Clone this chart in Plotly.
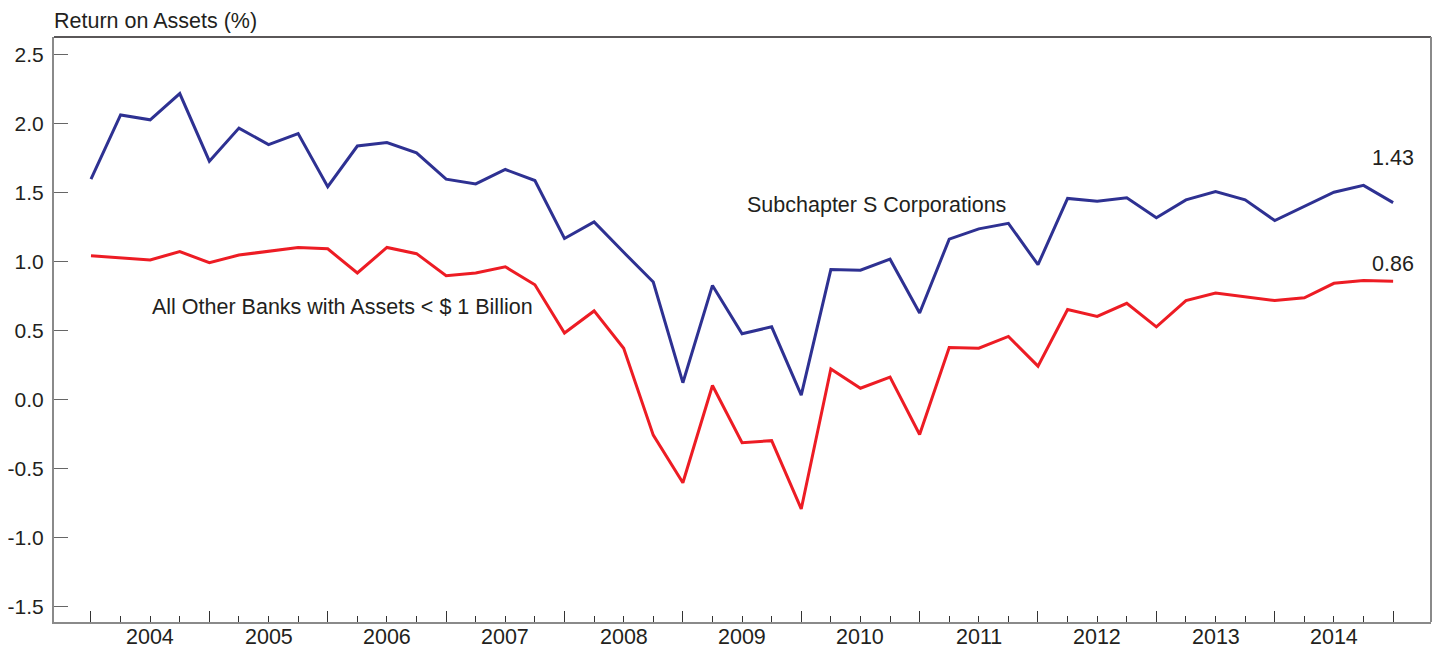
import plotly.graph_objects as go

# Quarterly, 2003Q4 .. 2014Q4 (45 quarters)
quarter_index = list(range(45))
years = ["2004", "2005", "2006", "2007", "2008", "2009", "2010", "2011", "2012", "2013", "2014"]

subchapter_s = [1.60, 2.065, 2.03, 2.22, 1.73, 1.97, 1.85, 1.93, 1.545, 1.84,
                1.865, 1.79, 1.60, 1.565, 1.67, 1.59, 1.17, 1.29, 1.07, 0.855,
                0.125, 0.83, 0.48, 0.53, 0.035, 0.945, 0.94, 1.02, 0.63, 1.165,
                1.24, 1.28, 0.98, 1.46, 1.44, 1.465, 1.32, 1.45, 1.51, 1.45,
                1.30, 1.405, 1.505, 1.555, 1.43]
all_other = [1.045, 1.03, 1.015, 1.075, 0.995, 1.05, 1.075, 1.105, 1.095, 0.92,
             1.105, 1.06, 0.90, 0.92, 0.965, 0.835, 0.485, 0.645, 0.375, -0.255,
             -0.60, 0.105, -0.31, -0.295, -0.79, 0.225, 0.085, 0.165, -0.25, 0.38,
             0.375, 0.46, 0.245, 0.655, 0.605, 0.70, 0.53, 0.72, 0.775, 0.75,
             0.72, 0.74, 0.845, 0.865, 0.86]

blue = "#2E3192"
red = "#ED1C24"
font_family = "Liberation Sans, Arial, Helvetica, sans-serif"
text_color = "#231F20"
fs = 21.5

fig = go.Figure()
fig.add_trace(go.Scatter(x=quarter_index, y=subchapter_s, mode="lines",
                         line=dict(color=blue, width=3), name="Subchapter S Corporations",
                         hoverinfo="x+y"))
fig.add_trace(go.Scatter(x=quarter_index, y=all_other, mode="lines",
                         line=dict(color=red, width=3), name="All Other Banks with Assets < $ 1 Billion",
                         hoverinfo="x+y"))

major = [i for i in quarter_index if i % 4 == 0]
minor = [i for i in quarter_index if i % 4 != 0]

fig.update_xaxes(range=[-1.25, 45.28], tickvals=major, ticktext=["" for _ in major],
                 ticks="inside", ticklen=11, tickwidth=1.3, tickcolor="#333333",
                 minor=dict(tickvals=minor, ticks="inside", ticklen=6, tickwidth=1.3, tickcolor="#333333"),
                 showgrid=False, zeroline=False, showline=True, linecolor="#8a8a8a", linewidth=2,
                 mirror=False, automargin=False)
fig.update_yaxes(range=[-1.609, 2.630], tickvals=[-1.5, -1.0, -0.5, 0.0, 0.5, 1.0, 1.5, 2.0, 2.5],
                 ticktext=["-1.5", "-1.0", "-0.5", "0.0", "0.5", "1.0", "1.5", "2.0", "2.5"],
                 ticks="inside", ticklen=14, tickwidth=1.3, tickcolor="#666666",
                 tickfont=dict(size=21, color=text_color, family=font_family),
                 ticklabelstandoff=4,
                 showgrid=False, zeroline=False, showline=True, linecolor="#8a8a8a", linewidth=2,
                 mirror=False, automargin=False)

# frame: top (dark) and right (gray)
fig.add_shape(type="line", xref="paper", yref="paper", x0=0, x1=1, y0=1, y1=1,
              line=dict(color="#231F20", width=1.5))
fig.add_shape(type="line", xref="paper", yref="paper", x0=1, x1=1, y0=0, y1=1,
              line=dict(color="#8a8a8a", width=2))

annotations = []
for k, yr in enumerate(years):
    annotations.append(dict(x=4 * k + 2, y=-0.026, xref="x", yref="paper", text=yr,
                            showarrow=False, xanchor="center", yanchor="middle",
                            font=dict(size=fs, color=text_color, family=font_family)))
annotations += [
    dict(x=0, y=1.0, xref="paper", yref="paper", text="Return on Assets (%)", showarrow=False,
         xanchor="left", yanchor="bottom", yshift=2, xshift=-2,
         font=dict(size=fs, color=text_color, family=font_family)),
    dict(x=44, y=subchapter_s[-1], xref="x", yref="y", text=f"{subchapter_s[-1]:.2f}", showarrow=False,
         xanchor="center", yanchor="middle", yshift=45,
         font=dict(size=fs, color=text_color, family=font_family)),
    dict(x=44, y=all_other[-1], xref="x", yref="y", text=f"{all_other[-1]:.2f}", showarrow=False,
         xanchor="center", yanchor="middle", yshift=17,
         font=dict(size=fs, color=text_color, family=font_family)),
    dict(x=22.1, y=1.41, xref="x", yref="y", text="Subchapter S Corporations", showarrow=False,
         xanchor="left", yanchor="middle",
         font=dict(size=fs, color=text_color, family=font_family)),
    dict(x=2.0, y=0.675, xref="x", yref="y", text="All Other Banks with Assets < $ 1 Billion", showarrow=False,
         xanchor="left", yanchor="middle",
         font=dict(size=fs, color=text_color, family=font_family)),
]

# page body has an 8px margin, so the plot area is offset accordingly
fig.update_layout(width=1442, height=651, margin=dict(l=46, r=19, t=29, b=37),
                  paper_bgcolor="white", plot_bgcolor="white", showlegend=False,
                  annotations=annotations, font=dict(family=font_family, color=text_color))

fig.write_html("out.html")
